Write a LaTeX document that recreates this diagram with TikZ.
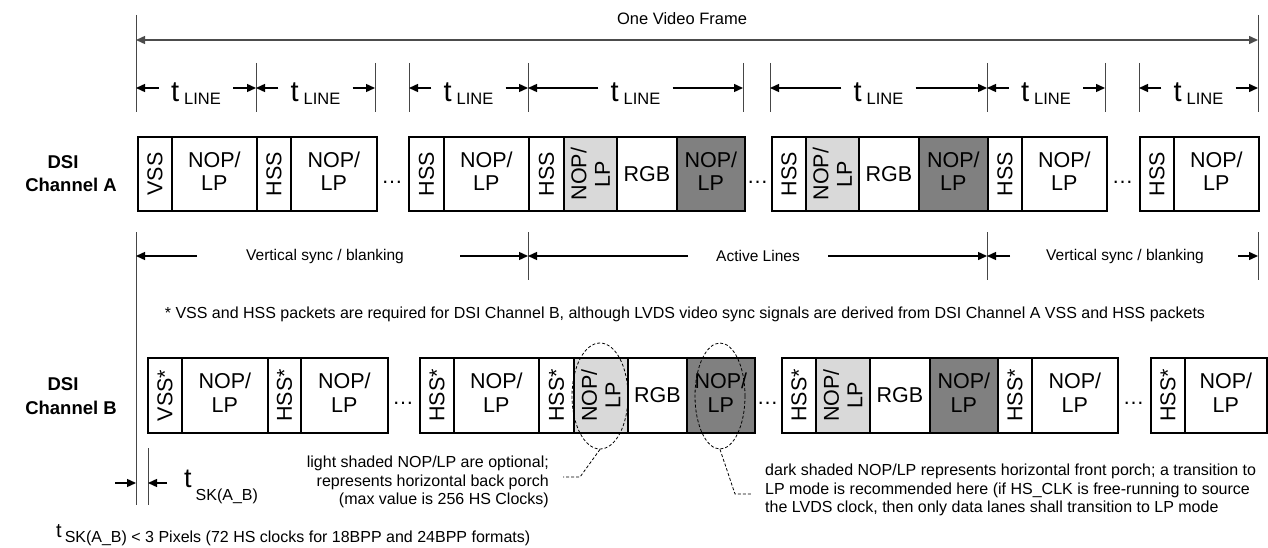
\documentclass[tikz,border=0pt]{standalone}
\usepackage{fontspec}
\setmainfont{Liberation Sans}
\usetikzlibrary{arrows.meta,shapes.geometric}
\definecolor{lightfill}{RGB}{217,217,217}
\definecolor{darkfill}{RGB}{128,128,128}
\definecolor{tickgray}{RGB}{70,70,70}
\newcommand{\boxfont}{\fontsize{21.5}{23.5}\selectfont}
\newcommand{\smallfont}{\fontsize{15.5}{18}\selectfont}
\newcommand{\notefont}{\fontsize{16}{18.5}\selectfont}
\newcommand{\tline}{{\fontsize{29}{29}\selectfont t}\hspace{5pt}\raisebox{-3pt}{\fontsize{16.5}{18}\selectfont LINE}}
\begin{document}
\begin{tikzpicture}[x=1pt,y=-1pt,
  cell/.style={draw=black, line width=1.7pt, minimum height=74pt, inner sep=0pt, anchor=west, font=\boxfont, align=center},
  cellb/.style={cell, minimum height=75pt},
  lt/.style={fill=lightfill},
  dk/.style={fill=darkfill},
  rot/.style={rotate=90, font=\boxfont, align=center, inner sep=0pt},
  two/.style={yshift=3pt},
  dots/.style={font=\boxfont, inner sep=0pt, anchor=base},
  arr/.style={line width=1.4pt, draw=black, -{Triangle[length=9pt,width=8pt]}},
  tick/.style={line width=0.9pt, draw=tickgray},
  lbl/.style={font=\fontsize{18.5}{22}\selectfont\bfseries, inner sep=0pt, anchor=base},
  txt/.style={font=\smallfont, inner sep=0pt},
  tl/.style={inner xsep=12pt, inner ysep=0pt, anchor=base},
  lead/.style={line width=0.8pt, dash pattern=on 3pt off 2pt},
  ell/.style={draw, line width=0.8pt, dash pattern=on 3pt off 2pt}
]
\useasboundingbox (0,0) rectangle (1268,548);

% ---------- top: one video frame ----------
\node[txt, font=\fontsize{16.5}{18}\selectfont] (ovf) at (682,19) {One Video Frame};
\coordinate (F1) at (136,40);
\coordinate (F2) at (1258,40);
\draw[tick] (136,15) -- (136,112);
\draw[tick] (1258,15) -- (1258,112);
\draw[line width=1.4pt, draw=black!70, {Triangle[length=9pt,width=8pt]}-{Triangle[length=9pt,width=8pt]}] (F1) -- (F2);

% ---------- t_LINE row ----------
\foreach \x in {256,375,409,528,743,770,987,1105,1139}
  \draw[tick] (\x,63) -- (\x,112);
\foreach \i/\a/\b in {1/136/256, 2/256/375, 3/409/528, 4/528/743, 5/770/987, 6/987/1105, 7/1139/1258} {
  \coordinate (La\i) at (\a,88);
  \coordinate (Lb\i) at (\b,88);
  \node[tl] (T\i) at ({(\a+\b)/2},102) {\tline};
  \draw[arr] (T\i.west |- La\i) -- (La\i);
  \draw[arr] (T\i.east |- Lb\i) -- (Lb\i);
}

% ---------- labels ----------
\node[lbl] (dsiA) at (63,168) {DSI};
\node[lbl] (chA) at (71,192) {Channel A};
\node[lbl] (dsiB) at (63,390) {DSI};
\node[lbl] (chB) at (71,414) {Channel B};

% ---------- Channel A ----------
\node[cell, minimum width=34] (A1) at (137,174) {};
\node[rot] (A1t) at (A1) {VSS};
\node[cell, minimum width=85] (A2) at (171,174) {};
\node[two, align=center, font=\boxfont] (A2t) at (A2) {NOP/\\LP};
\node[cell, minimum width=34] (A3) at (256,174) {};
\node[rot] (A3t) at (A3) {HSS};
\node[cell, minimum width=86] (A4) at (290,174) {};
\node[two, align=center, font=\boxfont] (A4t) at (A4) {NOP/\\LP};
\node[dots] (dA1) at (392,183) {\dots};

\node[cell, minimum width=35] (A5) at (408,174) {};
\node[rot] (A5t) at (A5) {HSS};
\node[cell, minimum width=85] (A6) at (443,174) {};
\node[two, align=center, font=\boxfont] (A6t) at (A6) {NOP/\\LP};
\node[cell, minimum width=35] (A7) at (528,174) {};
\node[rot] (A7t) at (A7) {HSS};
\node[cell, lt, minimum width=53] (A8) at (563,174) {};
\node[rot] (A8t) at (A8) {NOP/\\LP};
\node[cell, minimum width=60] (A9) at (616,174) {RGB};
\node[cell, dk, minimum width=68] (A10) at (676,174) {};
\node[two, align=center, font=\boxfont] (A10t) at (A10) {NOP/\\LP};
\node[dots] (dA2) at (757.5,183) {\dots};

\node[cell, minimum width=34] (A11) at (771,174) {};
\node[rot] (A11t) at (A11) {HSS};
\node[cell, lt, minimum width=53] (A12) at (805,174) {};
\node[rot] (A12t) at (A12) {NOP/\\LP};
\node[cell, minimum width=60] (A13) at (858,174) {RGB};
\node[cell, dk, minimum width=69] (A14) at (918,174) {};
\node[two, align=center, font=\boxfont] (A14t) at (A14) {NOP/\\LP};
\node[cell, minimum width=34] (A15) at (987,174) {};
\node[rot] (A15t) at (A15) {HSS};
\node[cell, minimum width=85] (A16) at (1021,174) {};
\node[two, align=center, font=\boxfont] (A16t) at (A16) {NOP/\\LP};
\node[dots] (dA3) at (1122.5,183) {\dots};

\node[cell, minimum width=34] (A17) at (1139,174) {};
\node[rot] (A17t) at (A17) {HSS};
\node[cell, minimum width=85] (A18) at (1173,174) {};
\node[two, align=center, font=\boxfont] (A18t) at (A18) {NOP/\\LP};

% ---------- sync / active row ----------
\draw[tick] (136,232) -- (136,505);
\foreach \x in {528,987,1258}
  \draw[tick] (\x,232) -- (\x,280);
\node[txt] (vs1) at (325,256) {Vertical sync / blanking};
\node[txt] (act) at (758,256) {Active Lines};
\node[txt] (vs2) at (1125,256) {Vertical sync / blanking};
\coordinate (S0) at (136,256);
\coordinate (S1) at (528,256);
\coordinate (S2) at (987,256);
\coordinate (S3) at (1258,256);
\coordinate (s1l) at (197,256);
\coordinate (s1r) at (460,256);
\coordinate (s2l) at (688,256);
\coordinate (s2r) at (828,256);
\coordinate (s3l) at (1010,256);
\coordinate (s3r) at (1238,256);
\draw[arr] (s1l) -- (S0);
\draw[arr] (s1r) -- (S1);
\draw[arr] (s2l) -- (S1);
\draw[arr] (s2r) -- (S2);
\draw[arr] (s3l) -- (S2);
\draw[arr] (s3r) -- (S3);

% ---------- note ----------
\node[txt, font=\fontsize{16}{18}\selectfont] (note) at (685,314) {* VSS and HSS packets are required for DSI Channel B, although LVDS video sync signals are derived from DSI Channel A VSS and HSS packets};

% ---------- Channel B ----------
\node[cellb, minimum width=34] (B1) at (147,395.5) {};
\node[rot] (B1t) at (B1) {VSS*};
\node[cellb, minimum width=86] (B2) at (181,395.5) {};
\node[two, align=center, font=\boxfont] (B2t) at (B2) {NOP/\\LP};
\node[cellb, minimum width=33] (B3) at (267,395.5) {};
\node[rot] (B3t) at (B3) {HSS*};
\node[cellb, minimum width=87] (B4) at (300,395.5) {};
\node[two, align=center, font=\boxfont] (B4t) at (B4) {NOP/\\LP};
\node[dots] (dB1) at (403,404) {\dots};

\node[cellb, minimum width=34] (B5) at (419,395.5) {};
\node[rot] (B5t) at (B5) {HSS*};
\node[cellb, minimum width=85] (B6) at (453,395.5) {};
\node[two, align=center, font=\boxfont] (B6t) at (B6) {NOP/\\LP};
\node[cellb, minimum width=35] (B7) at (538,395.5) {};
\node[rot] (B7t) at (B7) {HSS*};
\node[cellb, lt, minimum width=54] (B8) at (573,395.5) {};
\node[rot] (B8t) at (B8) {NOP/\\LP};
\node[cellb, minimum width=59] (B9) at (627,395.5) {RGB};
\node[cellb, dk, minimum width=68] (B10) at (686,395.5) {};
\node[two, align=center, font=\boxfont] (B10t) at (B10) {NOP/\\LP};
\node[dots] (dB2) at (767.5,404) {\dots};

\node[cellb, minimum width=34] (B11) at (781,395.5) {};
\node[rot] (B11t) at (B11) {HSS*};
\node[cellb, lt, minimum width=54] (B12) at (815,395.5) {};
\node[rot] (B12t) at (B12) {NOP/\\LP};
\node[cellb, minimum width=60] (B13) at (869,395.5) {RGB};
\node[cellb, dk, minimum width=68] (B14) at (929,395.5) {};
\node[two, align=center, font=\boxfont] (B14t) at (B14) {NOP/\\LP};
\node[cellb, minimum width=34] (B15) at (997,395.5) {};
\node[rot] (B15t) at (B15) {HSS*};
\node[cellb, minimum width=86] (B16) at (1031,395.5) {};
\node[two, align=center, font=\boxfont] (B16t) at (B16) {NOP/\\LP};
\node[dots] (dB3) at (1133.5,404) {\dots};

\node[cellb, minimum width=34] (B17) at (1150,395.5) {};
\node[rot] (B17t) at (B17) {HSS*};
\node[cellb, minimum width=82] (B18) at (1184,395.5) {};
\node[two, align=center, font=\boxfont] (B18t) at (B18) {NOP/\\LP};

% ---------- ellipses and leaders ----------
\node[ell, ellipse, minimum width=56, minimum height=106, inner sep=0pt] (E1) at (600,396) {};
\node[ell, ellipse, minimum width=50, minimum height=106, inner sep=0pt] (E2) at (720,396) {};
\coordinate (c1) at (580,477);
\coordinate (c1e) at (563,477);
\coordinate (c2) at (735,494);
\coordinate (c2e) at (752,494);
\draw[lead] (E1.south) -- (c1) -- (c1e);
\draw[lead] (E2.south) -- (c2) -- (c2e);

\node[font=\notefont, align=right, anchor=north east, inner sep=0pt] (n1) at (549,456)
  {light shaded NOP/LP are optional;\\represents horizontal back porch\\(max value is 256 HS Clocks)};
\node[font=\notefont, align=left, anchor=north west, inner sep=0pt] (n2) at (765,464)
  {dark shaded NOP/LP represents horizontal front porch; a transition to\\LP mode is recommended here (if HS\_CLK is free-running to source\\the LVDS clock, then only data lanes shall transition to LP mode};

% ---------- skew ----------
\draw[tick] (148,448) -- (148,505);
\coordinate (K0) at (136,483);
\coordinate (K1) at (148,483);
\coordinate (k0) at (115,483);
\coordinate (k1) at (167,483);
\draw[arr] (k0) -- (K0);
\draw[arr] (k1) -- (K1);
\node[inner sep=0pt, anchor=base west] (tsk) at (184,487)
  {{\fontsize{27}{27}\selectfont t}\hspace{4pt}\raisebox{-13pt}{\fontsize{16}{18}\selectfont SK(A\_B)}};

\node[inner sep=0pt, anchor=base west] (tsk2) at (56,542)
  {\raisebox{5pt}{\fontsize{20}{20}\selectfont t}\hspace{3pt}{\fontsize{16}{18}\selectfont SK(A\_B) < 3 Pixels (72 HS clocks for 18BPP and 24BPP formats)}};
\end{tikzpicture}
\end{document}
